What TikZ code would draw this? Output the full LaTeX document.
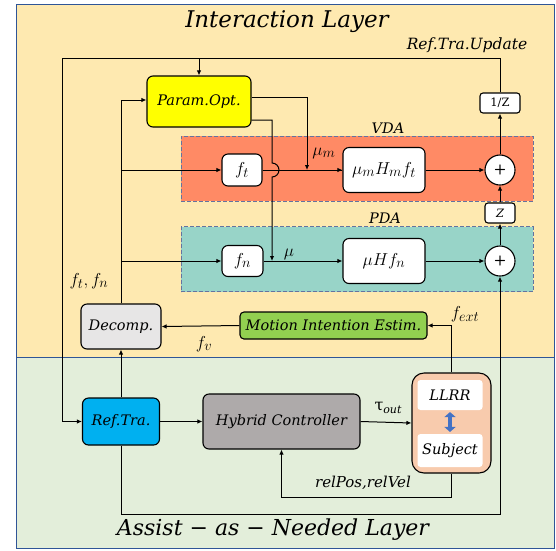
\documentclass[tikz,border=0pt]{standalone}
\usepackage{fontspec}
\newfontfamily\lbl{DejaVu Serif}
\usetikzlibrary{arrows.meta}
\definecolor{cybg}{RGB}{254,233,176}
\definecolor{cgbg}{RGB}{227,238,218}
\definecolor{cframe}{RGB}{47,85,151}
\definecolor{cvda}{RGB}{255,138,101}
\definecolor{cpda}{RGB}{152,212,200}
\definecolor{cdash}{RGB}{100,115,160}
\definecolor{cyel}{RGB}{255,255,0}
\definecolor{cdec}{RGB}{231,230,230}
\definecolor{cmie}{RGB}{146,208,80}
\definecolor{crt}{RGB}{0,176,240}
\definecolor{chc}{RGB}{174,170,170}
\definecolor{cll}{RGB}{248,203,173}
\definecolor{cblue}{RGB}{68,114,196}
\begin{document}
\begin{tikzpicture}[x=1pt,y=-1pt,
  box/.style={draw, rounded corners=6pt, line width=1.1pt, inner sep=0pt, align=center, font=\lbl\itshape\fontsize{14.5}{16}\selectfont},
  wbox/.style={box, fill=white},
  mbox/.style={box, fill=white, font=\fontsize{19}{21}\selectfont},
  area/.style={draw=cdash, dashed, dash pattern=on 4pt off 2pt, line width=0.8pt, inner sep=0pt, minimum width=352, minimum height=65},
  arr/.style={line width=1pt, -{Latex[length=5pt,width=4.5pt]}},
  ln/.style={line width=1pt},
  txt/.style={font=\lbl\itshape\fontsize{14.5}{16}\selectfont, inner sep=0pt},
  mth/.style={font=\fontsize{19}{21}\selectfont, inner sep=0pt}]
\useasboundingbox (0,0) rectangle (556,550);
% backgrounds
\fill[cybg] (16,4) rectangle (554,357);
\fill[cgbg] (16,357) rectangle (554,548);
\draw[cframe, line width=1pt] (16,4) rectangle (554,548);
\draw[cframe, line width=1pt] (16,357) -- (554,357);
% titles
\node[txt, font=\lbl\itshape\fontsize{23}{26}\selectfont] (t1) at (287,22) {Interaction Layer};
\node[txt, font=\lbl\itshape\fontsize{22}{26}\selectfont] (t2) at (273,530) {Assist − as − Needed Layer};
\node[txt, font=\lbl\itshape\fontsize{15.5}{17}\selectfont] (rtu) at (467,45) {Ref.Tra.Update};
% areas
\node[area, fill=cvda] (vda) at (357,168.5) {};
\node[area, fill=cpda] (pda) at (357,259) {};
\node[txt] (vdal) at (388,128) {VDA};
\node[txt] (pdal) at (385,218) {PDA};
% boxes
\node[box, fill=cyel, minimum width=104, minimum height=51] (po) at (199,101.5) {Param.Opt.};
\node[mbox, minimum width=40, minimum height=32] (ft) at (242,170) {$f_t$};
\node[mbox, minimum width=82, minimum height=45] (mh) at (384,170) {$\mu_m H_m f_t$};
\node[mbox, minimum width=41, minimum height=31] (fn) at (242.5,261) {$f_n$};
\node[mbox, minimum width=82, minimum height=45] (mhn) at (384,261) {$\mu H f_n$};
\node[draw, circle, fill=white, line width=1.1pt, minimum size=30, inner sep=0pt, font=\sffamily\bfseries\fontsize{14}{14}\selectfont] (p1) at (500,170) {+};
\node[draw, circle, fill=white, line width=1.1pt, minimum size=30, inner sep=0pt, font=\sffamily\bfseries\fontsize{14}{14}\selectfont] (p2) at (500,261) {+};
\node[wbox, rounded corners=3pt, minimum width=40, minimum height=20, font=\lbl\fontsize{11.5}{12}\selectfont] (zinv) at (500,103) {1/Z};
\node[wbox, rounded corners=3pt, minimum width=30, minimum height=20, font=\lbl\itshape\fontsize{11.5}{12}\selectfont] (z) at (500,213) {Z};
\node[box, fill=cdec, minimum width=80, minimum height=45] (dec) at (121,326.5) {Decomp.};
\node[box, fill=cmie, rounded corners=4pt, minimum width=187, minimum height=27] (mie) at (333.5,325.5) {Motion Intention Estim.};
\node[box, fill=crt, minimum width=77, minimum height=47] (rt) at (121,421.5) {Ref.Tra.};
\node[box, fill=chc, minimum width=157, minimum height=55] (hc) at (281.5,421.5) {Hybrid Controller};
\node[box, fill=cll, rounded corners=12pt, minimum width=79, minimum height=100] (ll) at (451.5,423) {};
\node[box, draw=none, fill=white, rounded corners=3pt, minimum width=65, minimum height=30] (llr) at (450,395) {LLRR};
\node[box, draw=none, fill=white, rounded corners=3pt, minimum width=65, minimum height=33] (sub) at (450,450.5) {Subject};
\draw[cblue, line width=4.5pt, {Triangle[length=5pt,width=11pt]}-{Triangle[length=5pt,width=11pt]}] ([yshift=-1.5pt]llr.south) -- ([yshift=1.5pt]sub.north);
% labels
\node[mth] (lmum) at (324,153) {$\mu_m$};
\node[mth] (lmu) at (289,254) {$\mu$};
\node[mth] (lftn) at (89,281) {$f_t, f_n$};
\node[mth] (lfext) at (465,314) {$f_{ext}$};
\node[mth] (lfv) at (204,344) {$f_v$};
\node[inner sep=0pt] (ltau) at (388,408) {{\lbl\fontsize{16}{16}\selectfont τ}{\lbl\itshape\fontsize{11}{12}\selectfont\raisebox{-3pt}{out}}};
\node[txt, font=\lbl\itshape\fontsize{15}{16}\selectfont] (lrel) at (363,483) {relPos,relVel};
% coordinates
\coordinate (tl) at (62,58);
\coordinate (mum) at (307,170);
\coordinate (mu) at (272,261);
% connectors
\draw[arr] (zinv.north) |- (tl) |- (rt.west);
\draw[arr] (po.north |- tl) -- (po.north);
\draw[arr] (dec.north) |- ([yshift=1.5pt]po.west);
\draw[arr] (dec.north |- ft.west) -- (ft.west);
\draw[arr] (dec.north |- fn.west) -- (fn.west);
\draw[arr] ([yshift=4.5pt]po.east) -| (mum);
\draw[ln] (ft.east) -- (mh.west);
\draw[arr] (mum) -- (mh.west);
\draw[arr] ([yshift=-18.5pt]po.east) -| (272,163) arc (-90:90:7) -- (mu);
\draw[arr] (fn.east) -- (mhn.west);
\draw[arr] (mh.east) -- (p1.west);
\draw[arr] (mhn.east) -- (p2.west);
\draw[arr] (p2.north) -- (z.south);
\draw[arr] (z.north) -- (p1.south);
\draw[arr] (p1.north) -- (zinv.south);
\draw[arr] (ll.north) |- (mie.east);
\draw[arr] (mie.west) -- (dec.east);
\draw[arr] (rt.north) -- (dec.south);
\draw[arr] (rt.east) -- (hc.west);
\draw[arr] (hc.east) -- (ll.west);
\draw[arr] (ll.south) -- ++(0,24) -| (hc.south);
\draw[arr] (rt.south) -- ++(0,69) -| (p2.south);
\end{tikzpicture}
\end{document}
